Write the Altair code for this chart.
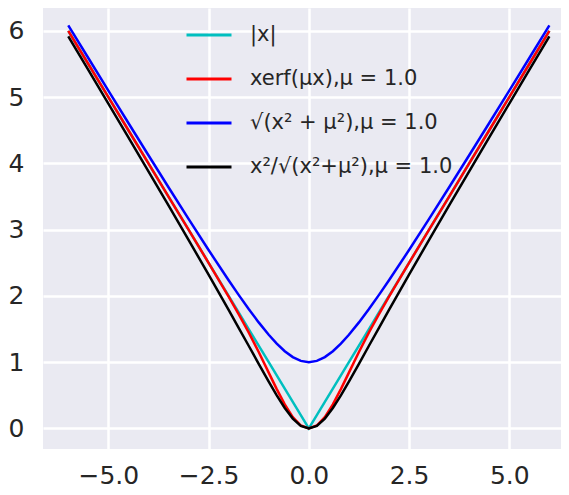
import altair as alt
import pandas as pd

x_vals = [-6, -5.5, -5, -4.5, -4, -3.5, -3, -2.5, -2, -1.75, -1.5, -1.25, -1, -0.8, -0.6, -0.4, -0.2, 0,
          0.2, 0.4, 0.6, 0.8, 1, 1.25, 1.5, 1.75, 2, 2.5, 3, 3.5, 4, 4.5, 5, 5.5, 6]

abs_vals = [6, 5.5, 5, 4.5, 4, 3.5, 3, 2.5, 2, 1.75, 1.5, 1.25, 1, 0.8, 0.6, 0.4, 0.2, 0,
            0.2, 0.4, 0.6, 0.8, 1, 1.25, 1.5, 1.75, 2, 2.5, 3, 3.5, 4, 4.5, 5, 5.5, 6]

erf_vals = [6.0, 5.5, 5.0, 4.5, 4.0, 3.5, 3.0, 2.499, 1.9907, 1.7267, 1.4492, 1.1536, 0.8427, 0.5937, 0.3623, 0.1714, 0.0445, 0,
            0.0445, 0.1714, 0.3623, 0.5937, 0.8427, 1.1536, 1.4492, 1.7267, 1.9907, 2.499, 3.0, 3.5, 4.0, 4.5, 5.0, 5.5, 6.0]

sqrt_vals = [6.0828, 5.5902, 5.0990, 4.6098, 4.1231, 3.6401, 3.1623, 2.6926, 2.2361, 2.0156, 1.8028, 1.6008, 1.4142, 1.2806, 1.1662, 1.0770, 1.0198, 1.0,
             1.0198, 1.0770, 1.1662, 1.2806, 1.4142, 1.6008, 1.8028, 2.0156, 2.2361, 2.6926, 3.1623, 3.6401, 4.1231, 4.6098, 5.0990, 5.5902, 6.0828]

frac_vals = [5.9184, 5.4113, 4.9029, 4.3928, 3.8806, 3.3653, 2.8460, 2.3212, 1.7889, 1.5194, 1.2481, 0.9761, 0.7071, 0.4998, 0.3087, 0.1486, 0.0392, 0,
             0.0392, 0.1486, 0.3087, 0.4998, 0.7071, 0.9761, 1.2481, 1.5194, 1.7889, 2.3212, 2.8460, 3.3653, 3.8806, 4.3928, 4.9029, 5.4113, 5.9184]

labels = ["|x|", "xerf(μx),μ = 1.0", "√(x² + μ²),μ = 1.0", "x²/√(x²+μ²),μ = 1.0"]
colors = ["#00bfbf", "#ff0000", "#0000ff", "#000000"]
x_ticks = [-5, -2.5, 0, 2.5, 5]
y_ticks = [0, 1, 2, 3, 4, 5, 6]

rows = []
for lab, vals in zip(labels, [abs_vals, erf_vals, sqrt_vals, frac_vals]):
    for i, (xv, yv) in enumerate(zip(x_vals, vals)):
        rows.append({"x": xv, "y": yv, "series": lab, "i": i})
df = pd.DataFrame(rows)

chart = alt.Chart(df).mark_line(strokeWidth=2.5, clip=True).encode(
    x=alt.X("x:Q", scale=alt.Scale(domain=[-6.63, 6.29], nice=False, zero=False),
            axis=alt.Axis(values=x_ticks, format=".1f", title=None)),
    y=alt.Y("y:Q", scale=alt.Scale(domain=[-0.31, 6.345], nice=False, zero=False),
            axis=alt.Axis(values=y_ticks, format="d", title=None)),
    color=alt.Color("series:N",
                    scale=alt.Scale(domain=labels, range=colors),
                    legend=alt.Legend(title=None, orient="none", legendX=142, legendY=3,
                                      symbolType="stroke", symbolSize=2025, symbolStrokeWidth=3,
                                      labelFontSize=21, labelFont="DejaVu Sans", labelColor="#262626",
                                      labelOffset=17, rowPadding=10, padding=0, labelLimit=400)),
    order=alt.Order("i:Q"),
    detail="series:N",
).properties(
    width=518, height=441,
    autosize=alt.AutoSizeParams(type="none"),
    padding={"left": 35, "top": 0, "right": 0, "bottom": 40},
).configure(
    background="white"
).configure_view(
    fill="#EAEAF2", stroke=None
).configure_axis(
    grid=True, gridColor="white", gridWidth=2.5, domain=False, ticks=False,
    labelFont="DejaVu Sans", labelFontSize=25, labelColor="#262626",
).configure_axisX(
    labelPadding=14
).configure_axisY(
    labelPadding=19
)

chart.save("out.html", embed_options={"renderer": "svg", "actions": False})
